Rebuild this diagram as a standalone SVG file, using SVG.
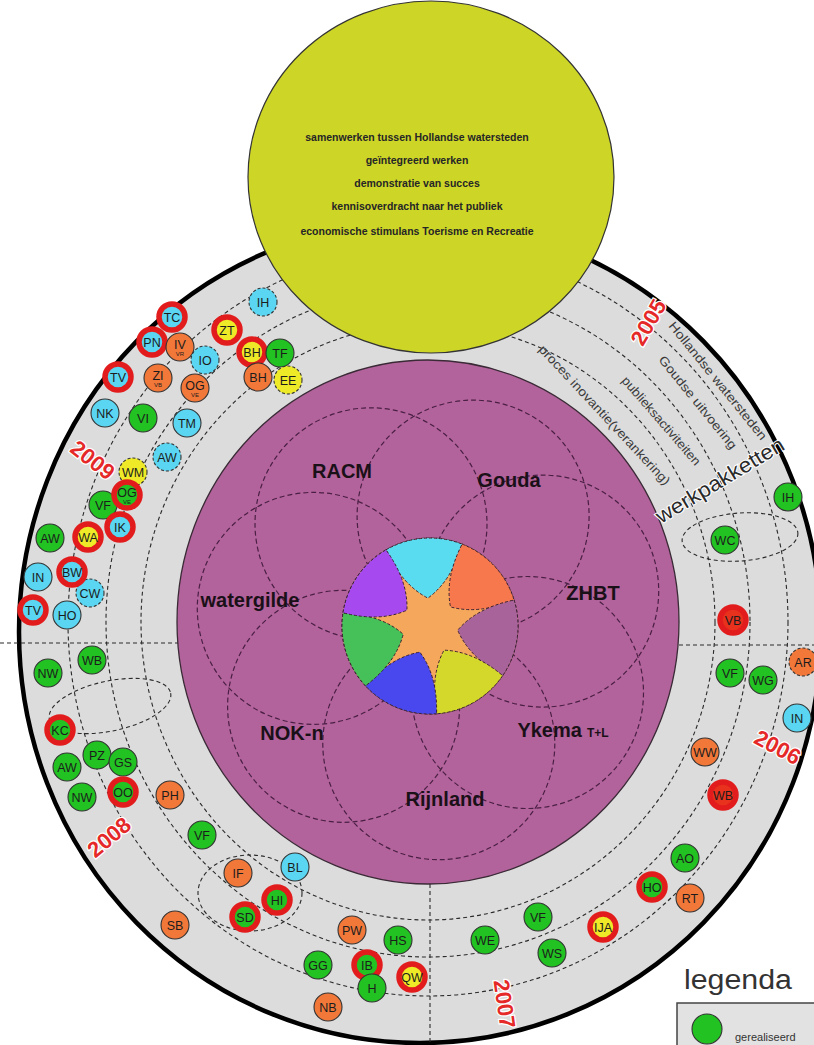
<svg xmlns="http://www.w3.org/2000/svg" width="814" height="1045" viewBox="0 0 814 1045">
<defs>
<style>
.nd circle{stroke:#333;stroke-width:1.1}
.nd text{font-family:"Liberation Sans",Arial,sans-serif;font-size:12.5px;fill:#1c1c1c;text-anchor:middle}
.nd .sub{font-size:6px}
.g circle{fill:#22c222}
.c circle{fill:#5ad6f2}
.o circle{fill:#f2783a}
.y circle{fill:#eeea28}
.r circle{fill:#e8321e}
.ring circle{stroke:#e21c1c;stroke-width:5.5}
.dsh circle{stroke-dasharray:3 2}
.dl{fill:none;stroke:#2a2a2a;stroke-width:1.1;stroke-dasharray:4 3}
.fl{fill:none;stroke:#4a1f44;stroke-width:1.2;stroke-dasharray:5 3}
.pt{stroke:#3a2030;stroke-width:1;stroke-dasharray:3 2}
.pl{font-family:"Liberation Sans",Arial,sans-serif;font-weight:bold;font-size:20px;fill:#1a1018;text-anchor:middle}
.yt{font-family:"Liberation Sans",Arial,sans-serif;font-weight:bold;font-size:10.5px;fill:#262626;text-anchor:middle}
.yr{font-family:"Liberation Sans",Arial,sans-serif;font-weight:bold;font-size:22px;fill:#e52828;text-anchor:middle;stroke:#fff;stroke-width:2.5;paint-order:stroke}
.tl{font-family:"Liberation Sans",Arial,sans-serif;font-size:12.5px;fill:#3a3a3a}
</style>
</defs>
<rect width="814" height="1045" fill="#fff"/>

<g id="outer-ring">
<ellipse cx="420" cy="632" rx="401" ry="411" fill="#dcdcdc" stroke="#000" stroke-width="4.5"/>
</g>

<g id="tracks">
<ellipse class="dl" cx="428" cy="622" rx="287" ry="298"/>
<ellipse class="dl" cx="428" cy="622" rx="322" ry="335"/>
<ellipse class="dl" cx="428" cy="622" rx="360" ry="374"/>
</g>

<g id="connectors">
<line class="dl" x1="0" y1="643" x2="178" y2="643"/>
<line class="dl" x1="679" y1="645" x2="814" y2="645"/>
<line class="dl" x1="430" y1="884" x2="430" y2="1045"/>
<ellipse class="dl" cx="740" cy="537" rx="58" ry="24" transform="rotate(-4 740 537)"/>
<ellipse class="dl" cx="110" cy="706" rx="62" ry="25" transform="rotate(-12 110 706)"/>
<ellipse class="dl" cx="250" cy="893" rx="52" ry="38"/>
</g>

<g id="purpose">
<ellipse cx="431" cy="177" rx="183" ry="176" fill="#cdd526" stroke="#333" stroke-width="1.2"/>
<text class="yt" x="417" y="141">samenwerken tussen Hollandse watersteden</text>
<text class="yt" x="417" y="164">geïntegreerd werken</text>
<text class="yt" x="417" y="187">demonstratie van succes</text>
<text class="yt" x="417" y="210">kennisoverdracht naar het publiek</text>
<text class="yt" x="417" y="235">economische stimulans Toerisme en Recreatie</text>
</g>

<g id="partners">
<ellipse cx="428" cy="622" rx="251" ry="262" fill="#b3639b" stroke="#3a2a36" stroke-width="1.3"/>
<circle class="fl" cx="371" cy="523.8" r="116"/>
<circle class="fl" cx="473.1" cy="516.1" r="116"/>
<circle class="fl" cx="542.7" cy="591.1" r="116"/>
<circle class="fl" cx="527.5" cy="692.5" r="116"/>
<circle class="fl" cx="438.8" cy="743.7" r="116"/>
<circle class="fl" cx="343.6" cy="706.3" r="116"/>
<circle class="fl" cx="313.3" cy="608.4" r="116"/>
<text class="pl" x="342" y="478">RACM</text>
<text class="pl" x="509" y="487">Gouda</text>
<text class="pl" x="593" y="600">ZHBT</text>
<text class="pl" x="563" y="737">Ykema<tspan font-size="12" dx="5">T+L</tspan></text>
<text class="pl" x="445" y="806">Rijnland</text>
<text class="pl" x="292" y="740">NOK-n</text>
<text class="pl" x="250" y="607">watergilde</text>
</g>

<g id="core">
<circle cx="430" cy="626" r="88" fill="#f5a85c" stroke="#3a2030" stroke-width="1" stroke-dasharray="3 2"/>
<path class="pt" fill="#5adcf0" d="M386.0,549.8 A88,88 0 0 1 462.1,544.1 Q451.7,580.9 427.9,598.1 Q401.8,584.7 386.0,549.8 Z"/>
<path class="pt" fill="#f8784e" d="M462.1,544.1 A88,88 0 0 1 514.1,600.0 Q478.7,614.8 450.5,606.9 Q444.7,578.2 462.1,544.1 Z"/>
<path class="pt" fill="#a8649a" d="M514.1,600.0 A88,88 0 0 1 502.7,675.6 Q469.1,657.2 457.7,630.2 Q476.6,607.8 514.1,600.0 Z"/>
<path class="pt" fill="#d4d82a" d="M502.7,675.6 A88,88 0 0 1 436.6,713.8 Q430,676 444.0,650.2 Q473.3,651 502.7,675.6 Z"/>
<path class="pt" fill="#4848ee" d="M436.6,713.8 A88,88 0 0 1 365.5,685.9 Q390.9,657.2 419.8,652.1 Q437.5,675.4 436.6,713.8 Z"/>
<path class="pt" fill="#46c058" d="M365.5,685.9 A88,88 0 0 1 343.0,612.8 Q381.3,614.8 403.2,634.2 Q396.0,662.6 365.5,685.9 Z"/>
<path class="pt" fill="#a64af0" d="M343.0,612.8 A88,88 0 0 1 386.0,549.8 Q408.3,580.9 406.9,610.2 Q380.1,622.3 343.0,612.8 Z"/>
</g>

<g id="track-labels">
<text class="tl" transform="translate(668,326) rotate(51)" textLength="148" lengthAdjust="spacingAndGlyphs">Hollandse watersteden</text>
<text class="tl" transform="translate(658,360) rotate(51)" textLength="116" lengthAdjust="spacingAndGlyphs">Goudse uitvoering</text>
<text class="tl" transform="translate(621,381) rotate(49)" textLength="113" lengthAdjust="spacingAndGlyphs">publieksactiviteiten</text>
<text class="tl" transform="translate(538,350) rotate(47)" textLength="186" lengthAdjust="spacingAndGlyphs">proces  inovantie(verankering)</text>
<text transform="translate(661,524) rotate(-31)" font-family="Liberation Sans, Arial, sans-serif" font-size="21" fill="#2a2a2a" stroke="#fff" stroke-width="2" paint-order="stroke" textLength="146" lengthAdjust="spacingAndGlyphs">werkpakketten</text>
</g>

<g id="years">
<text class="yr" transform="translate(655,326) rotate(-60)">2005</text>
<text class="yr" transform="translate(774,754) rotate(28)">2006</text>
<text class="yr" transform="translate(497,1005) rotate(82)">2007</text>
<text class="yr" transform="translate(114,843) rotate(-40)">2008</text>
<text class="yr" transform="translate(88,466) rotate(38)">2009</text>
</g>

<g id="nodes">
<g id="n01" class="nd c ring" transform="translate(172,317)"><circle r="13"/><text y="4.5">TC</text></g>
<g id="n02" class="nd c ring" transform="translate(152,342)"><circle r="13"/><text y="4.5">PN</text></g>
<g id="n03" class="nd o" transform="translate(180,347)"><circle r="14"/><text y="2">IV</text><text class="sub" y="9">VR</text></g>
<g id="n04" class="nd c ring" transform="translate(118,377)"><circle r="13"/><text y="4.5">TV</text></g>
<g id="n05" class="nd o" transform="translate(158,378)"><circle r="14"/><text y="2">ZI</text><text class="sub" y="9">VB</text></g>
<g id="n06" class="nd o" transform="translate(195,388)"><circle r="14"/><text y="2">OG</text><text class="sub" y="9">VE</text></g>
<g id="n07" class="nd c dsh" transform="translate(205,360)"><circle r="14"/><text y="4.5">IO</text></g>
<g id="n08" class="nd y ring" transform="translate(227,330)"><circle r="13"/><text y="4.5">ZT</text></g>
<g id="n09" class="nd y ring" transform="translate(252,352)"><circle r="13"/><text y="4.5">BH</text></g>
<g id="n10" class="nd g" transform="translate(280,353)"><circle r="14"/><text y="4.5">TF</text></g>
<g id="n11" class="nd o" transform="translate(258,377)"><circle r="14"/><text y="4.5">BH</text></g>
<g id="n12" class="nd y dsh" transform="translate(288,380)"><circle r="14"/><text y="4.5">EE</text></g>
<g id="n13" class="nd c dsh" transform="translate(263,302)"><circle r="14"/><text y="4.5">IH</text></g>
<g id="n14" class="nd c" transform="translate(105,413)"><circle r="14"/><text y="4.5">NK</text></g>
<g id="n15" class="nd g" transform="translate(143,418)"><circle r="14"/><text y="4.5">VI</text></g>
<g id="n16" class="nd c" transform="translate(187,423)"><circle r="14"/><text y="4.5">TM</text></g>
<g id="n17" class="nd c dsh" transform="translate(167,457)"><circle r="14"/><text y="4.5">AW</text></g>
<g id="n18" class="nd y dsh" transform="translate(133,472)"><circle r="14"/><text y="4.5">WM</text></g>
<g id="n20" class="nd g" transform="translate(103,505)"><circle r="14"/><text y="4.5">VF</text></g>
<g id="n19" class="nd g ring" transform="translate(127,495)"><circle r="13"/><text y="2">OG</text><text class="sub" y="9">VE</text></g>
<g id="n21" class="nd c ring" transform="translate(120,527)"><circle r="13"/><text y="4.5">IK</text></g>
<g id="n22" class="nd g" transform="translate(50,538)"><circle r="14"/><text y="4.5">AW</text></g>
<g id="n23" class="nd y ring" transform="translate(88,537)"><circle r="13"/><text y="4.5">WA</text></g>
<g id="n24" class="nd c" transform="translate(38,577)"><circle r="14"/><text y="4.5">IN</text></g>
<g id="n26" class="nd c dsh" transform="translate(90,593)"><circle r="14"/><text y="4.5">CW</text></g>
<g id="n25" class="nd c ring" transform="translate(72,572)"><circle r="13"/><text y="4.5">BW</text></g>
<g id="n28" class="nd c" transform="translate(67,615)"><circle r="14"/><text y="4.5">HO</text></g>
<g id="n27" class="nd c ring" transform="translate(33,610)"><circle r="13"/><text y="4.5">TV</text></g>
<g id="n29" class="nd g" transform="translate(92,660)"><circle r="14"/><text y="4.5">WB</text></g>
<g id="n30" class="nd g" transform="translate(48,673)"><circle r="14"/><text y="4.5">NW</text></g>
<g id="n31" class="nd g ring" transform="translate(60,730)"><circle r="13"/><text y="4.5">KC</text></g>
<g id="n33" class="nd g" transform="translate(67,767)"><circle r="14"/><text y="4.5">AW</text></g>
<g id="n32" class="nd g" transform="translate(97,755)"><circle r="14"/><text y="4.5">PZ</text></g>
<g id="n34" class="nd g" transform="translate(123,762)"><circle r="14"/><text y="4.5">GS</text></g>
<g id="n35" class="nd g" transform="translate(82,797)"><circle r="14"/><text y="4.5">NW</text></g>
<g id="n36" class="nd g ring" transform="translate(123,792)"><circle r="13"/><text y="4.5">OO</text></g>
<g id="n37" class="nd o" transform="translate(170,795)"><circle r="14"/><text y="4.5">PH</text></g>
<g id="n38" class="nd g" transform="translate(202,835)"><circle r="14"/><text y="4.5">VF</text></g>
<g id="n39" class="nd o" transform="translate(238,873)"><circle r="14"/><text y="4.5">IF</text></g>
<g id="n40" class="nd c" transform="translate(295,867)"><circle r="14"/><text y="4.5">BL</text></g>
<g id="n41" class="nd g ring" transform="translate(277,900)"><circle r="13"/><text y="4.5">HI</text></g>
<g id="n42" class="nd g ring" transform="translate(245,917)"><circle r="13"/><text y="4.5">SD</text></g>
<g id="n43" class="nd o" transform="translate(175,925)"><circle r="14"/><text y="4.5">SB</text></g>
<g id="n44" class="nd o" transform="translate(352,930)"><circle r="14"/><text y="4.5">PW</text></g>
<g id="n45" class="nd g" transform="translate(398,940)"><circle r="14"/><text y="4.5">HS</text></g>
<g id="n46" class="nd g" transform="translate(318,965)"><circle r="14"/><text y="4.5">GG</text></g>
<g id="n47" class="nd g ring" transform="translate(367,965)"><circle r="13"/><text y="4.5">IB</text></g>
<g id="n48" class="nd g" transform="translate(372,988)"><circle r="14"/><text y="4.5">H</text></g>
<g id="n49" class="nd y ring" transform="translate(412,977)"><circle r="13"/><text y="4.5">QW</text></g>
<g id="n50" class="nd o" transform="translate(328,1007)"><circle r="14"/><text y="4.5">NB</text></g>
<g id="n51" class="nd g" transform="translate(485,940)"><circle r="14"/><text y="4.5">WE</text></g>
<g id="n52" class="nd g" transform="translate(538,917)"><circle r="14"/><text y="4.5">VF</text></g>
<g id="n53" class="nd g" transform="translate(552,953)"><circle r="14"/><text y="4.5">WS</text></g>
<g id="n54" class="nd y ring" transform="translate(603,927)"><circle r="13"/><text y="4.5">IJA</text></g>
<g id="n55" class="nd g ring" transform="translate(652,887)"><circle r="13"/><text y="4.5">HO</text></g>
<g id="n56" class="nd g" transform="translate(685,858)"><circle r="14"/><text y="4.5">AO</text></g>
<g id="n57" class="nd o" transform="translate(690,898)"><circle r="14"/><text y="4.5">RT</text></g>
<g id="n58" class="nd r ring" transform="translate(723,795)"><circle r="13"/><text y="4.5">WB</text></g>
<g id="n59" class="nd o" transform="translate(705,752)"><circle r="14"/><text y="4.5">WW</text></g>
<g id="n60" class="nd c" transform="translate(797,718)"><circle r="14"/><text y="4.5">IN</text></g>
<g id="n61" class="nd g" transform="translate(763,680)"><circle r="14"/><text y="4.5">WG</text></g>
<g id="n62" class="nd g" transform="translate(730,673)"><circle r="14"/><text y="4.5">VF</text></g>
<g id="n63" class="nd o dsh" transform="translate(803,662)"><circle r="14"/><text y="4.5">AR</text></g>
<g id="n64" class="nd r ring" transform="translate(733,620)"><circle r="13"/><text y="4.5">VB</text></g>
<g id="n65" class="nd g" transform="translate(725,540)"><circle r="14"/><text y="4.5">WC</text></g>
<g id="n66" class="nd g" transform="translate(788,497)"><circle r="14"/><text y="4.5">IH</text></g>
</g>

<g id="legend">
<text x="684" y="989" font-family="Liberation Sans, Arial, sans-serif" font-size="27" fill="#333" textLength="108" lengthAdjust="spacingAndGlyphs">legenda</text>
<rect x="677" y="1003" width="150" height="60" fill="#e2e2e2" stroke="#444" stroke-width="1.5"/>
<circle cx="707" cy="1029" r="15" fill="#22c222" stroke="#333" stroke-width="1.1"/>
<text x="735" y="1041" font-family="Liberation Sans, Arial, sans-serif" font-size="11" fill="#333">gerealiseerd</text>
</g>
</svg>
